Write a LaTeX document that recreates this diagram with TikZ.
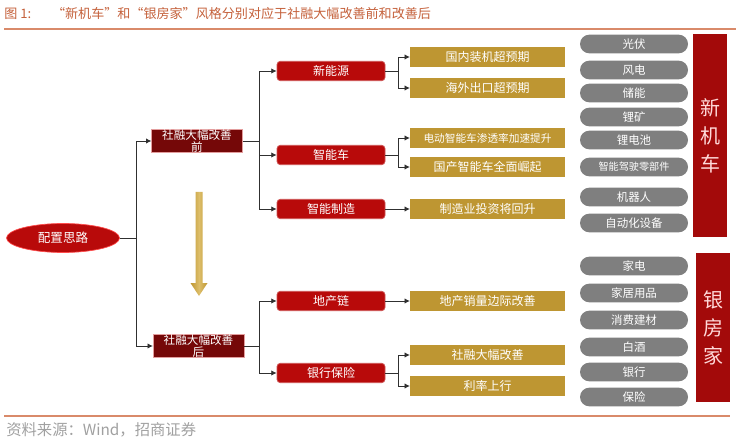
\documentclass[tikz,border=0pt]{standalone}
\usepackage{fontspec}
\setmainfont{Noto Sans CJK SC}
\usetikzlibrary{shapes.geometric,arrows.meta}
\definecolor{titlec}{HTML}{C4603A}
\definecolor{linec}{HTML}{D98A6A}
\definecolor{redbox}{HTML}{B80A0A}
\definecolor{darkred}{HTML}{750808}
\definecolor{gold}{HTML}{BE9632}
\definecolor{goldl}{HTML}{DDBE6A}
\definecolor{pill}{HTML}{7F7F7F}
\definecolor{tallred}{HTML}{A30A0A}
\definecolor{srcc}{HTML}{A0A0A0}
\definecolor{conn}{HTML}{303030}
\tikzset{
  redn/.style={draw=redbox!70!white, line width=0.6pt, fill=redbox, rounded corners=2.5pt, text=white, minimum width=81pt, minimum height=14.5pt, inner sep=0pt, font=\fontsize{9pt}{10pt}\selectfont},
  goldn/.style={fill=gold, text=white, minimum width=116pt, minimum height=14.5pt, inner sep=0pt, font=\fontsize{9pt}{10pt}\selectfont},
  pilln/.style={fill=pill, text=white, minimum width=81pt, minimum height=14pt, rounded corners=7pt, inner sep=0pt, font=\fontsize{8.6pt}{10pt}\selectfont},
  phasen/.style={draw=redbox!40!white, line width=0.5pt, fill=darkred, text=white, minimum width=68pt, minimum height=17.5pt, inner sep=0pt, align=center, font=\fontsize{8.7pt}{8.8pt}\selectfont},
  talln/.style={fill=tallred, text=red!15!white, minimum width=25.5pt, inner sep=0pt, align=center, font=\fontsize{15pt}{21pt}\selectfont},
  arr/.style={draw=conn, line width=0.6pt, -{Latex[length=4pt,width=4pt]}},
  ln/.style={draw=conn, line width=0.6pt},
}
\begin{document}
\begin{tikzpicture}[x=0.75pt,y=-0.75pt]
\useasboundingbox (0,0) rectangle (750,442);
% title
\node[anchor=west, text=titlec, font=\fontsize{9.8pt}{11pt}\selectfont, inner sep=0pt] (title) at (4,14) {图 1:\hspace{1.6em}“新机车”和“银房家”风格分别对应于社融大幅改善前和改善后};
\draw[linec, line width=0.8pt] (4,29) -- (736,29);
% bottom
\draw[linec, line width=0.8pt] (4,416) -- (730,416);
\node[anchor=west, text=srcc, font=\fontsize{11.5pt}{12pt}\selectfont, inner sep=0pt] (src) at (6,430) {资料来源：Wind，招商证券};

% root
\node[ellipse, fill=redbox, draw=red!70!white, line width=0.5pt, minimum width=84.75pt, minimum height=21.75pt, inner sep=0pt, text=white, font=\fontsize{9.4pt}{10pt}\selectfont] (root) at (63,238) {配置思路};

% phases
\node[phasen] (p1) at (197,141) {社融大幅改善\\前};
\node[phasen] (p2) at (198.5,346) {社融大幅改善\\后};

% gold arrow
\shade[left color=gold, right color=gold, middle color=goldl] (195.5,192) -- (202.5,192) -- (202.5,283) -- (207.5,283) -- (199,296) -- (190.5,283) -- (195.5,283) -- cycle;

% red boxes
\node[redn] (r1) at (331,71) {新能源};
\node[redn] (r2) at (331,155) {智能车};
\node[redn] (r3) at (331,209) {智能制造};
\node[redn] (r4) at (331,301) {地产链};
\node[redn] (r5) at (331,373) {银行保险};

% gold boxes
\node[goldn] (g1) at (487.5,57) {国内装机超预期};
\node[goldn] (g2) at (487.5,88) {海外出口超预期};
\node[goldn, font=\fontsize{8pt}{9pt}\selectfont] (g3) at (487.5,138) {电动智能车渗透率加速提升};
\node[goldn] (g4) at (487.5,167) {国产智能车全面崛起};
\node[goldn] (g5) at (487.5,209) {制造业投资将回升};
\node[goldn] (g6) at (487.5,301) {地产销量边际改善};
\node[goldn] (g7) at (487.5,355) {社融大幅改善};
\node[goldn] (g8) at (487.5,386) {利率上行};

% pills
\node[pilln] (q1) at (634,44) {光伏};
\node[pilln] (q2) at (634,70) {风电};
\node[pilln] (q3) at (634,93) {储能};
\node[pilln] (q4) at (634,117) {锂矿};
\node[pilln] (q5) at (634,140) {锂电池};
\node[pilln, font=\fontsize{7.6pt}{8pt}\selectfont] (q6) at (634,167) {智能驾驶零部件};
\node[pilln] (q7) at (634,197) {机器人};
\node[pilln] (q8) at (634,223) {自动化设备};
\node[pilln] (q9) at (634,266) {家电};
\node[pilln] (q10) at (634,293) {家居用品};
\node[pilln] (q11) at (634,320) {消费建材};
\node[pilln] (q12) at (634,347) {白酒};
\node[pilln] (q13) at (634,372) {银行};
\node[pilln] (q14) at (634,397) {保险};

% tall boxes
\node[talln, minimum height=152pt] (t1) at (710,135.5) {新\\机\\车};
\node[talln, minimum height=112pt] (t2) at (713,327.5) {银\\房\\家};

% connectors
\coordinate (j0) at (136,238);
\draw[ln] (root.east) -- (j0);
\draw[arr] (j0) |- (p1.west);
\draw[arr] (j0) |- (p2.west);

\coordinate (j1) at (259,141);
\draw[ln] (p1.east) -- (j1);
\draw[arr] (j1) |- (r1.west);
\draw[arr] (j1) |- (r2.west);
\draw[arr] (j1) |- (r3.west);

\coordinate (j2) at (259,346);
\draw[ln] (p2.east) -- (j2);
\draw[arr] (j2) |- (r4.west);
\draw[arr] (j2) |- (r5.west);

\coordinate (k1) at (398,71);
\draw[ln] (r1.east) -- (k1);
\draw[arr] (k1) |- (g1.west);
\draw[arr] (k1) |- (g2.west);
\coordinate (k2) at (398,155);
\draw[ln] (r2.east) -- (k2);
\draw[arr] (k2) |- (g3.west);
\draw[arr] (k2) |- (g4.west);
\draw[arr] (r3.east) -- (g5.west);
\draw[arr] (r4.east) -- (g6.west);
\coordinate (k3) at (398,373);
\draw[ln] (r5.east) -- (k3);
\draw[arr] (k3) |- (g7.west);
\draw[arr] (k3) |- (g8.west);
\end{tikzpicture}
\end{document}
